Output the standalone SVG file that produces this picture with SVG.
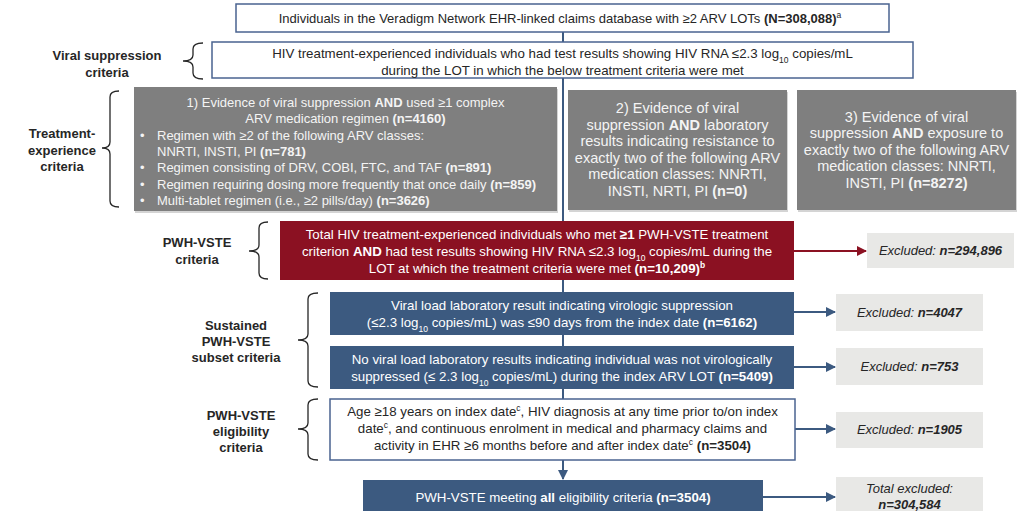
<svg xmlns="http://www.w3.org/2000/svg" width="1024" height="511" viewBox="0 0 1024 511">
<defs>
<style>
text{font-family:"Liberation Sans",Arial,sans-serif;font-size:13px;fill:#262626}
.c{text-anchor:middle}
.m{font-size:13.3px}
.big{font-size:14.5px}
.lbl{font-weight:bold;font-size:13px;fill:#262626;text-anchor:middle}
.w{fill:#ffffff}
.g{fill:#f4f4f4}
.b{font-weight:bold}
.i{font-style:italic}
.sub{font-size:8.5px;baseline-shift:sub}
.sup{font-size:8.5px;baseline-shift:super}
.outline{fill:#ffffff;stroke:#4a6390;stroke-width:1.5}
.grey{fill:#7f7f7f}
.shadow{fill:#d4d4d4}
.red{fill:#8b1122}
.blue{fill:#3c5a80}
.excl{fill:#e8e8e6}
.brace{fill:none;stroke:#262626;stroke-width:1.3}
.conn{stroke:#3c5a80;stroke-width:2;fill:none}
.connr{stroke:#8b1122;stroke-width:2;fill:none}
</style>
<marker id="ab" viewBox="0 0 10 10" refX="9" refY="5" markerWidth="5" markerHeight="5" orient="auto" markerUnits="strokeWidth"><path d="M0,0 L10,5 L0,10 Z" fill="#3c5a80"/></marker>
<marker id="ar" viewBox="0 0 10 10" refX="9" refY="5" markerWidth="5" markerHeight="5" orient="auto" markerUnits="strokeWidth"><path d="M0,0 L10,5 L0,10 Z" fill="#8b1122"/></marker>
</defs>
<rect width="1024" height="511" fill="#ffffff"/>

<g id="connectors">
<line class="conn" x1="563" y1="32" x2="563" y2="221"/>
<line class="conn" x1="563" y1="280" x2="563" y2="292"/>
<line class="conn" x1="563" y1="335" x2="563" y2="346"/>
<line class="conn" x1="563" y1="389" x2="563" y2="399"/>
<line class="conn" x1="563" y1="460" x2="563" y2="479" marker-end="url(#ab)"/>
<line class="connr" x1="794" y1="251" x2="866" y2="251" marker-end="url(#ar)"/>
<line class="conn" x1="794" y1="312" x2="835" y2="312" marker-end="url(#ab)"/>
<line class="conn" x1="794" y1="367" x2="835" y2="367" marker-end="url(#ab)"/>
<line class="conn" x1="795" y1="429" x2="835" y2="429" marker-end="url(#ab)"/>
<line class="conn" x1="763" y1="497" x2="835" y2="497" marker-end="url(#ab)"/>
</g>

<g id="brackets">
<path class="brace" d="M203,43 Q193,43 193,49 L193,55 Q193,61 183,61 Q193,61 193,67 L193,73 Q193,79 203,79"/>
<path class="brace" d="M119,91 Q110,91 110,97 L110,142 Q110,148 102,148 Q110,148 110,154 L110,201 Q110,207 119,207"/>
<path class="brace" d="M268,222 Q259,222 259,228 L259,245 Q259,251 249,251 Q259,251 259,257 L259,273 Q259,279 268,279"/>
<path class="brace" d="M318,293 Q308,293 308,299 L308,334 Q308,340 298,340 Q308,340 308,346 L308,381 Q308,387 318,387"/>
<path class="brace" d="M318,399 Q308,399 308,405 L308,423 Q308,429 298,429 Q308,429 308,435 L308,454 Q308,460 318,460"/>
</g>

<g id="labels">
<text class="lbl" x="107" y="60">Viral suppression</text>
<text class="lbl" x="107" y="77">criteria</text>
<text class="lbl" x="62" y="138">Treatment-</text>
<text class="lbl" x="62" y="155">experience</text>
<text class="lbl" x="62" y="171">criteria</text>
<text class="lbl" x="197" y="247">PWH-VSTE</text>
<text class="lbl" x="197" y="264">criteria</text>
<text class="lbl" x="236" y="330">Sustained</text>
<text class="lbl" x="236" y="346">PWH-VSTE</text>
<text class="lbl" x="236" y="362">subset criteria</text>
<text class="lbl" x="241" y="420">PWH-VSTE</text>
<text class="lbl" x="241" y="436">eligibility</text>
<text class="lbl" x="241" y="452">criteria</text>
</g>

<g id="n-start">
<rect class="outline" x="236" y="4" width="653" height="28"/>
<text class="c" x="560" y="22.5">Individuals in the Veradigm Network EHR-linked claims database with ≥2 ARV LOTs <tspan class="b">(N=308,088)</tspan><tspan class="sup">a</tspan></text>
</g>

<g id="n-viral">
<rect class="outline" x="212" y="42" width="701" height="36"/>
<text class="c m" x="562.5" y="57.5">HIV treatment-experienced individuals who had test results showing HIV RNA ≤2.3 log<tspan class="sub">10</tspan> copies/mL</text>
<text class="c m" x="562.5" y="74.5">during the LOT in which the below treatment criteria were met</text>
</g>

<g id="n-crit1">
<rect class="shadow" x="135" y="89" width="423" height="124"/>
<rect class="grey" x="134" y="87" width="423" height="124"/>
<text class="c g" x="345.5" y="106.5">1) Evidence of viral suppression <tspan class="b">AND</tspan> used ≥1 complex</text>
<text class="c g" x="345.5" y="123">ARV medication regimen <tspan class="b">(n=4160)</tspan></text>
<text class="g" x="140" y="139.5">•</text>
<text class="g" x="157" y="139.5">Regimen with ≥2 of the following ARV classes:</text>
<text class="g" x="157" y="155.5">NNRTI, INSTI, PI <tspan class="b">(n=781)</tspan></text>
<text class="g" x="140" y="172">•</text>
<text class="g" x="157" y="172">Regimen consisting of DRV, COBI, FTC, and TAF <tspan class="b">(n=891)</tspan></text>
<text class="g" x="140" y="188.5">•</text>
<text class="g" x="157" y="188.5">Regimen requiring dosing more frequently that once daily <tspan class="b">(n=859)</tspan></text>
<text class="g" x="140" y="205">•</text>
<text class="g" x="157" y="205">Multi-tablet regimen (i.e., ≥2 pills/day) <tspan class="b">(n=3626)</tspan></text>
</g>

<g id="n-crit2">
<rect class="shadow" x="569" y="92" width="219" height="120"/>
<rect class="grey" x="568" y="90" width="219" height="120"/>
<text class="c g big" x="677.5" y="113">2) Evidence of viral</text>
<text class="c g big" x="677.5" y="129.5">suppression <tspan class="b">AND</tspan> laboratory</text>
<text class="c g big" x="677.5" y="146">results indicating resistance to</text>
<text class="c g big" x="677.5" y="162.5">exactly two of the following ARV</text>
<text class="c g big" x="677.5" y="179">medication classes: NNRTI,</text>
<text class="c g big" x="677.5" y="195.5">INSTI, NRTI, PI <tspan class="b">(n=0)</tspan></text>
</g>

<g id="n-crit3">
<rect class="shadow" x="798" y="92" width="219" height="120"/>
<rect class="grey" x="797" y="90" width="219" height="120"/>
<text class="c g big" x="906.5" y="121.5">3) Evidence of viral</text>
<text class="c g big" x="906.5" y="138">suppression <tspan class="b">AND</tspan> exposure to</text>
<text class="c g big" x="906.5" y="154.5">exactly two of the following ARV</text>
<text class="c g big" x="906.5" y="171">medication classes: NNRTI,</text>
<text class="c g big" x="906.5" y="187.5">INSTI, PI <tspan class="b">(n=8272)</tspan></text>
</g>

<g id="n-total">
<rect class="red" x="280" y="221" width="514" height="59"/>
<text class="c w m" x="537" y="238.5">Total HIV treatment-experienced individuals who met <tspan class="b">≥1</tspan> PWH-VSTE treatment</text>
<text class="c w m" x="537" y="255.5">criterion <tspan class="b">AND</tspan> had test results showing HIV RNA ≤2.3 log<tspan class="sub">10</tspan> copies/mL during the</text>
<text class="c w m" x="537" y="272.5">LOT at which the treatment criteria were met <tspan class="b">(n=10,209)</tspan><tspan class="sup b">b</tspan></text>
</g>

<g id="n-sust1">
<rect class="blue" x="330" y="292" width="464" height="43"/>
<text class="c w m" x="562" y="309.5">Viral load laboratory result indicating virologic suppression</text>
<text class="c w m" x="562" y="326.5">(≤2.3 log<tspan class="sub">10</tspan> copies/mL) was ≤90 days from the index date <tspan class="b">(n=6162)</tspan></text>
</g>

<g id="n-sust2">
<rect class="blue" x="330" y="346" width="464" height="43"/>
<text class="c w m" x="562" y="363.5">No viral load laboratory results indicating individual was not virologically</text>
<text class="c w m" x="562" y="380.5">suppressed (≤ 2.3 log<tspan class="sub">10</tspan> copies/mL) during the index ARV LOT <tspan class="b">(n=5409)</tspan></text>
</g>

<g id="n-elig">
<rect class="outline" x="330" y="399" width="465" height="61"/>
<text class="c m" x="562.5" y="415.5">Age ≥18 years on index date<tspan class="sup">c</tspan>, HIV diagnosis at any time prior to/on index</text>
<text class="c m" x="562.5" y="433">date<tspan class="sup">c</tspan>, and continuous enrolment in medical and pharmacy claims and</text>
<text class="c m" x="562.5" y="449.5">activity in EHR ≥6 months before and after index date<tspan class="sup">c</tspan> <tspan class="b">(n=3504)</tspan></text>
</g>

<g id="n-final">
<rect class="blue" x="363" y="480" width="400" height="31"/>
<text class="c w m" x="563" y="501.5">PWH-VSTE meeting <tspan class="b">all</tspan> eligibility criteria <tspan class="b">(n=3504)</tspan></text>
</g>

<g id="x1">
<rect class="excl" x="867" y="233" width="147" height="35"/>
<text class="c i" x="940.5" y="255"><tspan>Excluded: </tspan><tspan class="b">n=294,896</tspan></text>
</g>
<g id="x2">
<rect class="excl" x="836" y="294" width="147" height="37"/>
<text class="c i" x="909.5" y="317"><tspan>Excluded: </tspan><tspan class="b">n=4047</tspan></text>
</g>
<g id="x3">
<rect class="excl" x="836" y="348" width="147" height="37"/>
<text class="c i" x="909.5" y="371"><tspan>Excluded: </tspan><tspan class="b">n=753</tspan></text>
</g>
<g id="x4">
<rect class="excl" x="836" y="412" width="147" height="36"/>
<text class="c i" x="909.5" y="434"><tspan>Excluded: </tspan><tspan class="b">n=1905</tspan></text>
</g>
<g id="x5">
<rect class="excl" x="836" y="477" width="147" height="34"/>
<text class="c i" x="909.5" y="492.5">Total excluded:</text>
<text class="c i b" x="909.5" y="509">n=304,584</text>
</g>
</svg>
